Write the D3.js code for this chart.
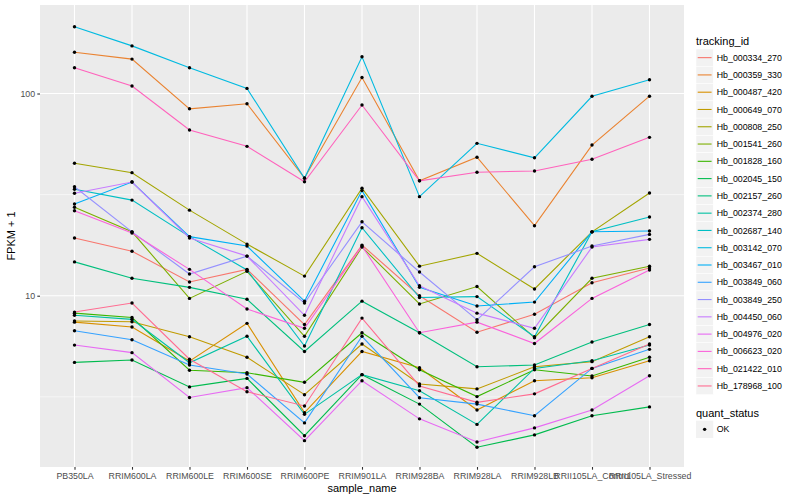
<!DOCTYPE html>
<html>
<head>
<meta charset="utf-8">
<script src="https://cdn.jsdelivr.net/npm/d3@7"></script>
<style>
body { margin: 0; background: #fff; }
text { font-family: "Liberation Sans", Arial, sans-serif; }
</style>
</head>
<body>
<svg id="chart" width="800" height="500"></svg>
<script>
// categories on the x axis
const samples = ["PB350LA", "RRIM600LA", "RRIM600LE", "RRIM600SE", "RRIM600PE", "RRIM901LA",
    "RRIM928BA", "RRIM928LA", "RRIM928LB", "RRII105LA_Control", "RRII105LA_Stressed"];

const trackingIds = ["Hb_000334_270", "Hb_000359_330", "Hb_000487_420", "Hb_000649_070", "Hb_000808_250",
    "Hb_001541_260", "Hb_001828_160", "Hb_002045_150", "Hb_002157_260", "Hb_002374_280",
    "Hb_002687_140", "Hb_003142_070", "Hb_003467_010", "Hb_003849_060", "Hb_003849_250",
    "Hb_004450_060", "Hb_004976_020", "Hb_006623_020", "Hb_021422_010", "Hb_178968_100"];

// ggplot hue palette, 20 levels
const palette = ["#F8766D", "#EA8331", "#D89000", "#C09B00", "#A3A500", "#7CAE00", "#39B600", "#00BB4E",
    "#00BF7D", "#00C1A3", "#00BFC4", "#00BAE0", "#00B0F6", "#35A2FF", "#9590FF", "#C77CFF",
    "#E76BF3", "#FA62DB", "#FF62BC", "#FF6C91"];

// FPKM + 1, one row per tracking id, one value per sample
const fpkm = [
    [19.3, 16.6, 11.7, 13.5, 7.2, 17.8, 10.0, 6.6, 8.1, 11.6, 13.7],
    [160, 148, 84, 89, 38.2, 120, 37.0, 48.4, 22.2, 55.6, 97],
    [7.4, 7.0, 4.75, 7.3, 2.64, 5.3, 4.4, 2.72, 3.8, 3.93, 4.77],
    [7.5, 7.44, 6.27, 4.96, 3.24, 5.77, 3.66, 3.46, 4.45, 4.72, 6.27],
    [45.2, 40.6, 26.5, 18.0, 12.5, 34.0, 14.0, 16.2, 10.8, 20.7, 32.2],
    [27.4, 20.7, 9.7, 13.2, 6.3, 17.4, 9.1, 11.1, 6.2, 12.2, 14.0],
    [8.2, 7.8, 4.28, 4.16, 3.73, 6.56, 4.3, 3.17, 4.3, 4.01, 4.96],
    [4.68, 4.81, 3.54, 3.9, 2.03, 4.07, 2.91, 1.78, 2.05, 2.55, 2.82],
    [14.7, 12.2, 11.0, 9.6, 5.3, 9.4, 6.56, 4.45, 4.54, 5.9, 7.2],
    [8.0, 7.64, 4.66, 6.3, 2.59, 4.07, 3.39, 2.31, 4.37, 4.77, 5.7],
    [33.6, 29.7, 19.6, 13.4, 5.64, 21.7, 9.8, 9.9, 6.27, 20.7, 24.5],
    [214, 172, 134, 106, 38.1, 152, 30.9, 56.7, 48.1, 96.9, 117],
    [28.4, 36.5, 19.6, 17.6, 9.4, 33.1, 11.0, 8.9, 9.3, 20.7, 20.9],
    [6.71, 6.06, 4.54, 4.1, 2.35, 6.3, 3.13, 2.91, 2.55, 4.37, 5.43],
    [34.6, 20.7, 12.8, 15.7, 9.2, 23.2, 13.1, 7.6, 13.9, 17.6, 20.1],
    [32.1, 36.5, 19.3, 15.7, 8.0, 30.9, 11.2, 8.2, 6.9, 17.4, 19.0],
    [5.7, 5.23, 3.14, 3.51, 1.92, 3.8, 2.46, 1.89, 2.22, 2.72, 4.02],
    [26.3, 20.4, 13.5, 8.6, 6.9, 17.6, 6.56, 7.4, 5.8, 9.7, 13.4],
    [134, 109, 66, 54.8, 36.6, 87.7, 37.0, 40.8, 41.4, 47.3, 60.7],
    [8.3, 9.2, 4.85, 3.35, 2.85, 7.75, 3.58, 2.97, 3.27, 4.37, 5.77]
];

const yMajor = [10, 100];
const yMinor = [Math.sqrt(10), Math.sqrt(1000)];
const statusLevels = ["OK"];

const svg = d3.select("#chart");
const panel = { left: 40, right: 684, top: 5, bottom: 467 };

const x = d3.scalePoint()
    .domain(samples)
    .range([panel.left, panel.right])
    .padding(0.6);

const y = d3.scaleLog()
    .domain([1.422, 274])
    .range([panel.bottom, panel.top]);

const color = d3.scaleOrdinal().domain(trackingIds).range(palette);

// panel background
svg.append("rect")
    .attr("x", panel.left).attr("y", panel.top)
    .attr("width", panel.right - panel.left)
    .attr("height", panel.bottom - panel.top)
    .attr("fill", "#EBEBEB");

// grid
const grid = svg.append("g");
grid.selectAll(".minor").data(yMinor).enter().append("line")
    .attr("x1", panel.left).attr("x2", panel.right)
    .attr("y1", d => y(d)).attr("y2", d => y(d))
    .attr("stroke", "#fff").attr("stroke-width", 0.55);
grid.selectAll(".major").data(yMajor).enter().append("line")
    .attr("x1", panel.left).attr("x2", panel.right)
    .attr("y1", d => y(d)).attr("y2", d => y(d))
    .attr("stroke", "#fff").attr("stroke-width", 1.1);
grid.selectAll(".vx").data(samples).enter().append("line")
    .attr("x1", d => x(d)).attr("x2", d => x(d))
    .attr("y1", panel.top).attr("y2", panel.bottom)
    .attr("stroke", "#fff").attr("stroke-width", 1.1);

// lines
const series = trackingIds.map((id, i) => ({ id, values: fpkm[i] }));
const line = d3.line()
    .x((d, i) => x(samples[i]))
    .y(d => y(d));

svg.append("g").selectAll("path").data(series).enter().append("path")
    .attr("d", d => line(d.values))
    .attr("fill", "none")
    .attr("stroke", d => color(d.id))
    .attr("stroke-width", 1.1);

// points
const pts = [];
series.forEach(s => s.values.forEach((v, i) => pts.push({ s: samples[i], v })));
svg.append("g").selectAll("circle").data(pts).enter().append("circle")
    .attr("cx", d => x(d.s)).attr("cy", d => y(d.v))
    .attr("r", 1.7).attr("fill", "#000");

// axes
const xAxis = svg.append("g")
    .attr("transform", `translate(0,${panel.bottom})`)
    .call(d3.axisBottom(x).tickSize(2.7).tickPadding(3.5));
const yAxis = svg.append("g")
    .attr("transform", `translate(${panel.left},0)`)
    .call(d3.axisLeft(y).tickValues(yMajor).tickFormat(d3.format("d")).tickSize(2.7).tickPadding(2.2));

[xAxis, yAxis].forEach(a => {
    a.select(".domain").remove();
    a.selectAll(".tick line").attr("stroke", "#333").attr("stroke-width", 1.1);
    a.selectAll(".tick text").attr("fill", "#4D4D4D")
        .style("font-size", "8.8px")
        .style("font-family", "'Liberation Sans', Arial, sans-serif");
});

svg.append("text")
    .attr("x", (panel.left + panel.right) / 2).attr("y", 492)
    .attr("text-anchor", "middle")
    .style("font-size", "11px")
    .text("sample_name");

svg.append("text")
    .attr("transform", `translate(15,${(panel.top + panel.bottom) / 2}) rotate(-90)`)
    .attr("text-anchor", "middle")
    .style("font-size", "11px")
    .text("FPKM + 1");

// legend: tracking_id
const keySize = 17.28;
const legend = svg.append("g").attr("transform", "translate(696,0)");
legend.append("text").attr("x", 0).attr("y", 44.5)
    .style("font-size", "11px").text("tracking_id");

const keys = legend.selectAll(".key").data(trackingIds).enter().append("g")
    .attr("transform", (d, i) => `translate(0,${49 + i * keySize})`);
keys.append("rect")
    .attr("width", keySize).attr("height", keySize)
    .attr("fill", "#F2F2F2").attr("stroke", "#fff").attr("stroke-width", 0.5);
keys.append("line")
    .attr("x1", 1.7).attr("x2", keySize - 1.7)
    .attr("y1", keySize / 2).attr("y2", keySize / 2)
    .attr("stroke", d => color(d)).attr("stroke-width", 1.1);
keys.append("text")
    .attr("x", keySize + 3.5).attr("y", keySize / 2).attr("dy", "0.35em")
    .style("font-size", "8.8px").text(d => d);

// legend: quant_status
legend.append("text").attr("x", 0).attr("y", 416.5)
    .style("font-size", "11px").text("quant_status");
const sKeys = legend.selectAll(".skey").data(statusLevels).enter().append("g")
    .attr("transform", (d, i) => `translate(0,${420.7 + i * keySize})`);
sKeys.append("rect")
    .attr("width", keySize).attr("height", keySize)
    .attr("fill", "#F2F2F2");
sKeys.append("circle")
    .attr("cx", keySize / 2).attr("cy", keySize / 2)
    .attr("r", 1.7).attr("fill", "#000");
sKeys.append("text")
    .attr("x", keySize + 3.5).attr("y", keySize / 2).attr("dy", "0.35em")
    .style("font-size", "8.8px").text(d => d);
</script>
</body>
</html>
